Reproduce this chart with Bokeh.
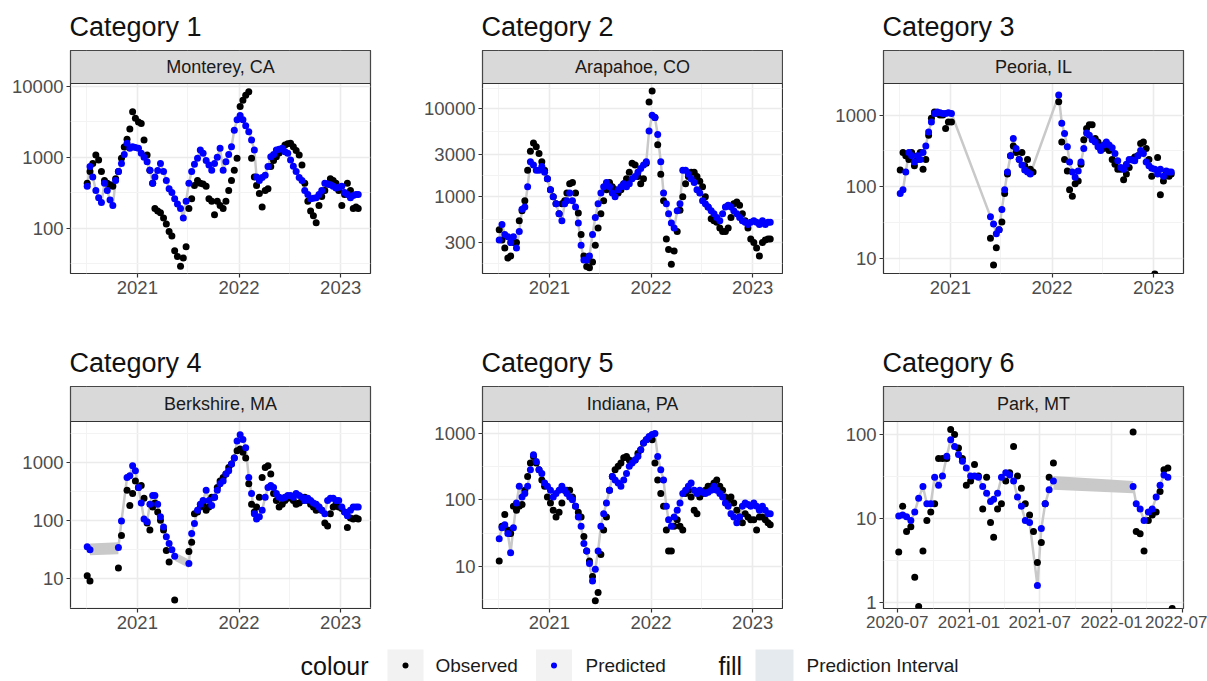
import numpy as np
import pandas as pd
from bokeh.plotting import figure
from bokeh.layouts import column, row
from bokeh.models import (Range1d, FixedTicker, DatetimeTickFormatter, NumeralTickFormatter,
                          BoxAnnotation, Label)
from bokeh.core.properties import value
from bokeh.embed import file_html
from bokeh.resources import INLINE

nan = float("nan")
FONT = "Liberation Sans"

categories = ["Category 1", "Category 2", "Category 3", "Category 4", "Category 5", "Category 6"]
locations = ["Monterey, CA", "Arapahoe, CO", "Peoria, IL", "Berkshire, MA", "Indiana, PA", "Park, MT"]
legend_colour = ["Observed", "Predicted"]
legend_fill = ["Prediction Interval"]

# readings: three per month (5th, 15th, 25th), one line per year
obs_monterey = (
    [430, 630, 820,  1080, 920, 630,  470, 430, 410,  390, 500, 630,  970, 1400, 1800,  2500, 4400, 3560] +
    [3160, 3000, 1760,  1080, 660, 430,  190, 175, 165,  140, 115, 90,  78, 48, 40,  29, 38, 55,
     190, 260, 400,  470, 430, 420,  390, 260, 240,  155, 240, 210,  190, 240, 340,  470, 660, 970] +
    [5200, 6400, 7500,  8400, 970, 530,  400, 310, 200,  340, 360, 740,  900, 1020, 1150,  1270, 1490, 1550,
     1580, 1410, 1250,  1080, 780, 430,  240, 175, 150,  120, 210, 280,  340, 420, 500,  470, 430, 340] +
    [210, 300, 430,  340, 190, 200,  190])
pred_monterey = (
    [390, 740, 530,  340, 270, 230,  430, 340, 250,  210, 470, 630,  820, 1100, 1580,  1340, 1410, 1380] +
    [1340, 1140, 1000,  870, 660, 430,  530, 650, 820,  630, 470, 360,  320, 260, 220,  190, 140, 240,
     430, 630, 800,  970, 1270, 1140,  900, 780, 660,  820, 1000, 1340,  660, 870, 1100,  1410, 2420, 3400] +
    [3900, 3400, 2800,  2300, 1760, 1270,  530, 470, 520,  560, 740, 1020,  1100, 1270, 1300,  1340, 1200, 1140,
     920, 750, 630,  520, 470, 340,  300, 260, 265,  270, 300, 340,  430, 420, 410,  390, 370, 380] +
    [390, 320, 300,  270, 290, 300,  300])

obs_arapahoe = (
    [420, 320, 260,  200, 210, 300,  300, 530, 690,  900, 2000, 3300,  4100, 3700, 3100,  2500, 2000, 1600] +
    [1200, 1000, 830,  640, 830, 900,  1100, 1400, 1450,  1100, 650, 370,  210, 160, 155,  180, 280, 440,
     640, 900, 1200,  1450, 1300, 1200,  1100, 1200, 1400,  1600, 1900, 2400,  2300, 1700, 1400,  1600, 2400, 12000] +
    [16000, 8000, 3900,  1800, 900, 330,  250, 170, 240,  400, 700, 1000,  1400, 1700, 1900,  1900, 1700, 1500,
     1300, 1000, 760,  560, 530, 510,  440, 400, 400,  440, 580, 830,  870, 800, 640,  530, 440, 330] +
    [300, 260, 210,  300, 320, 330,  330])
pred_arapahoe = (
    [320, 480, 370,  350, 300, 350,  260, 400, 720,  760, 1300, 2500,  2300, 2000, 2000,  2200, 1900, 1600] +
    [1200, 1000, 830,  640, 530, 830,  900, 1100, 900,  760, 500, 280,  190, 190, 210,  370, 580, 830,
     1100, 1300, 1450,  1300, 1100, 1000,  1200, 1300, 1400,  1300, 1400, 1600,  1700, 1900, 2100,  2300, 2500, 5600] +
    [8500, 8000, 5100,  2500, 1100, 830,  640, 500, 440,  690, 830, 2000,  2000, 1800, 1600,  1450, 1200, 1100,
     900, 830, 760,  690, 640, 580,  530, 640, 760,  800, 760, 690,  640, 580, 530,  510, 480, 510] +
    [530, 510, 480,  530, 480, 510,  510])

obs_peoria = (
    [170, 300, 270,  240, 300, 195,  240, 300, 175,  240, 520, 900,  1100, 1050, 1000,  1000, 650, 800] +
    [800, nan, nan,  nan, nan, nan,  nan, nan, nan,  nan, nan, nan,  nan, nan, 19,  8, 14, 25,
     32, 80, 150,  270, 370, 300,  240, 300, 195,  240, 175, 160,  nan, nan, nan,  nan, nan, nan] +
    [nan, nan, 1530,  420, 240, 165,  90, 73, 110,  120, 205, 450,  650, 730, 730,  470, 420, 340,
     340, 400, 320,  240, 205, 175,  175, 125, 150,  185, 240, 260,  270, 400, 420,  340, 240, 140] +
    [6, 255, 77,  120, 150, 140,  150])
pred_peoria = (
    [80, 90, 160,  300, 270, 220,  270, 240, 300,  370, 580, 800,  1050, 1100, 1080,  1050, 1050, 1080] +
    [1050, nan, nan,  nan, nan, nan,  nan, nan, nan,  nan, nan, nan,  nan, nan, 38,  30, 22, 25,
     48, 90, 160,  270, 470, 340,  240, 200, 170,  160, 150, nan,  nan, nan, nan,  nan, nan, nan] +
    [nan, nan, 1900,  770, 550, 360,  220, 160, 135,  165, 220, 340,  560, 520, 450,  420, 360, 320,
     380, 420, 380,  350, 290, 230,  185, 175, 205,  240, 235, 230,  270, 320, 290,  220, 195, 180] +
    [175, 150, 175,  140, 165, 160,  160])

obs_berkshire = (
    [11, 9, nan,  nan, nan, nan,  nan, nan, nan,  nan, nan, 15,  55, nan, 330,  180, 290, 480] +
    [370, 400, 240,  90, 68, 170,  200, 140, 100,  68, 30, 19,  nan, 4.2, nan,  nan, nan, nan,
     29, 42, 130,  140, 170, 190,  150, 170, 250,  250, 370, 480,  550, 630, 820,  940, 1200, 1600] +
    [1700, 1500, 1200,  430, 190, 140,  170, 250, 550,  820, 880, 630,  290, 220, 170,  190, 220, 240,
     250, 220, 190,  200, 220, 250,  220, 190, 170,  150, 170, 150,  90, 80, 130,  170, 190, 170] +
    [160, 140, 75,  110, 105, 110,  105])
pred_berkshire = (
    [35, 31, nan,  nan, nan, nan,  nan, nan, nan,  nan, nan, 34,  97, nan, 550,  590, 880, 720] +
    [370, 200, 105,  95, 190, 270,  270, 190, 115,  77, 52, 40,  31, 24, nan,  nan, nan, nan,
     18, 59, 88,  150, 190, 220,  330, 220, 180,  250, 330, 430,  480, 630, 720,  940, 1200, 2350] +
    [3000, 2500, 1800,  550, 290, 130,  105, 115, 150,  250, 370, 400,  370, 290, 250,  240, 250, 270,
     270, 250, 290,  270, 250, 220,  240, 220, 200,  190, 170, 150,  130, 220, 240,  240, 220, 220] +
    [170, 140, 120,  150, 170, 170,  170])

obs_indiana = (
    [12, 40, 60,  35, 31, 80,  70, 80, 85,  140, 225, 360,  450, 360, 285,  200, 160, 110] +
    [90, 70, 55,  65, 90, 140,  140, 140, 110,  80, 65, 55,  28, 17, 12,  7, 3, 4,
     15, 35, 55,  140, 225, 285,  320, 360, 430,  450, 400, 380,  400, 500, 570,  720, 810, 860] +
    [810, 360, 200,  125, 80, 35,  17, 17, 40,  50, 40, 35,  125, 140, 110,  70, 62, 110,
     125, 140, 160,  160, 180, 200,  160, 140, 110,  100, 110, 90,  70, 55, 45,  62, 55, 50] +
    [50, 35, 55,  55, 50, 45,  42])
pred_indiana = (
    [26, 38, 42,  31, 16, 38,  90, 160, 110,  125, 160, 285,  480, 380, 285,  250, 180, 160] +
    [140, 110, 125,  140, 160, 140,  125, 110, 100,  80, 55, 40,  22, 17, 11,  6, 9, 17,
     40, 62, 90,  140, 225, 200,  180, 160, 200,  250, 320, 360,  400, 450, 570,  720, 810, 900] +
    [970, 1000, 450,  285, 200, 80,  50, 40, 55,  70, 90, 125,  140, 160, 180,  140, 125, 140,
     130, 125, 130,  140, 160, 140,  125, 110, 90,  80, 62, 55,  45, 55, 80,  90, 85, 80] +
    [90, 80, 70,  80, 70, 62,  62])

obs_park = (
    [4, 14, 7,  8, 2, 0.9,  4.1, 9.5, 12,  15, 52, 52,  52, 115, 100,  69, 52, 25] +
    [28, 44, 32,  13, 31, 9,  6, 13, 15,  28, 35, 72,  32, 23, 15,  11, 7, 3,
     5.2, 15, 31,  46, nan, nan,  nan, nan, nan,  nan, nan, nan,  nan, nan, nan,  nan, nan, nan] +
    [nan, nan, nan,  nan, nan, 107,  7, 6.6, 4.1,  9.5, 11, 12,  21, 38, 40,  0.85])
pred_park = (
    [10.7, 11, 10.5,  9.5, 12, 17.4,  24, 15, 15,  31, 25, 32,  55, 87, 72,  58, 48, 40] +
    [32, 32, 31,  24, 20, 16,  17, 20, 31,  35, 33, 28,  18, 14, 9.5,  9, nan, 1.6,
     7.6, 15, 22,  28, nan, nan,  nan, nan, nan,  nan, nan, nan,  nan, nan, nan,  nan, nan, nan] +
    [nan, nan, nan,  nan, nan, 24,  15, 13, 9.5,  12, 13, 18,  25, 33, 31,  nan])

# visible prediction-interval bands where the interval bridges gaps
band_berkshire_dates = [["2020-07-15", "2020-10-25"], ["2021-05-15", "2021-07-05"]]
band_berkshire_lo = [[25, 26], [20, 15]]
band_berkshire_hi = [[40, 42], [28, 21]]
band_park_dates = [["2021-08-05", "2022-02-25"]]
band_park_lo = [[22, 20]]
band_park_hi = [[32, 28]]


def reading_dates(first_month, last_month, final_day):
    months = pd.period_range(first_month, last_month, freq="M")
    out = [pd.Timestamp(year=m.year, month=m.month, day=d) for m in months for d in (5, 15, 25)]
    out.append(pd.Timestamp(final_day))
    return out


dates_main = reading_dates("2020-07", "2023-02", "2023-03-05")
dates_park = reading_dates("2020-07", "2022-05", "2022-06-05")


def ms(s):
    return pd.Timestamp(s).value / 1e6


DT_FIELDS = ["microseconds", "milliseconds", "seconds", "minsec", "minutes",
             "hourmin", "hours", "days", "months", "years"]


def dt_fmt(fmt):
    return DatetimeTickFormatter(**{f: fmt for f in DT_FIELDS})


def geo_mid(a, b):
    return float(np.sqrt(a * b))


years_major = ["2021-01-01", "2022-01-01", "2023-01-01"]
years_minor = ["2020-07-01", "2021-07-01", "2022-07-01"]
half_major = ["2020-07-01", "2021-01-01", "2021-07-01", "2022-01-01", "2022-07-01"]
half_minor = ["2020-10-01", "2021-04-01", "2021-10-01", "2022-04-01"]

main_xr = ("2020-05-06", "2023-04-18")
park_xr = ("2020-05-27", "2022-07-04")

specs = [
    dict(obs=obs_monterey, pred=pred_monterey, dates=dates_main, yr=(23, 11000),
         yt=[100, 1000, 10000], ym=[geo_mid(10, 100), geo_mid(100, 1000), geo_mid(1000, 10000)],
         xr=main_xr, xt=years_major, xm=years_minor, fmt="%Y", bands=None),
    dict(obs=obs_arapahoe, pred=pred_arapahoe, dates=dates_main, yr=(133, 19500),
         yt=[300, 1000, 3000, 10000],
         ym=[geo_mid(100, 300), geo_mid(300, 1000), geo_mid(1000, 3000), geo_mid(3000, 10000), geo_mid(10000, 30000)],
         xr=main_xr, xt=years_major, xm=years_minor, fmt="%Y", bands=None),
    dict(obs=obs_peoria, pred=pred_peoria, dates=dates_main, yr=(6.1, 2760),
         yt=[10, 100, 1000], ym=[geo_mid(10, 100), geo_mid(100, 1000)],
         xr=main_xr, xt=years_major, xm=years_minor, fmt="%Y", bands=None),
    dict(obs=obs_berkshire, pred=pred_berkshire, dates=dates_main, yr=(3.0, 5100),
         yt=[10, 100, 1000], ym=[geo_mid(1, 10), geo_mid(10, 100), geo_mid(100, 1000), geo_mid(1000, 10000)],
         xr=main_xr, xt=years_major, xm=years_minor, fmt="%Y",
         bands=(band_berkshire_dates, band_berkshire_lo, band_berkshire_hi)),
    dict(obs=obs_indiana, pred=pred_indiana, dates=dates_main, yr=(2.3, 1520),
         yt=[10, 100, 1000], ym=[geo_mid(1, 10), geo_mid(10, 100), geo_mid(100, 1000)],
         xr=main_xr, xt=years_major, xm=years_minor, fmt="%Y", bands=None),
    dict(obs=obs_park, pred=pred_park, dates=dates_park, yr=(0.85, 143),
         yt=[1, 10, 100], ym=[geo_mid(1, 10), geo_mid(10, 100)],
         xr=park_xr, xt=half_major, xm=half_minor, fmt="%Y-%m",
         bands=(band_park_dates, band_park_lo, band_park_hi)),
]

# layout geometry (pixels)
col_left = [70, 100, 100]
col_right = [12, 1, 24]
TOP = 50                 # room for the "Category" title
strip_px = [33, 35]      # facet strip height per row
panel_px = [190, 187]    # data panel height per row
bottom_px = [63, 40]

RIBBON = "#c9c9c9"
AXIS_FS = "18.5px"


def make_panel(i, s):
    c, r = i % 3, i // 3
    left, right = col_left[c], col_right[c]
    width = left + 300 + right
    height = TOP + strip_px[r] + panel_px[r] + bottom_px[r]

    lo, hi = s["yr"]
    ext = np.log10(hi / lo) * strip_px[r] / panel_px[r]
    hi_ext = hi * 10 ** ext

    x0, x1 = pd.Timestamp(s["xr"][0]), pd.Timestamp(s["xr"][1])
    p = figure(width=width, height=height, x_axis_type="datetime", y_axis_type="log",
               x_range=Range1d(x0, x1), y_range=Range1d(lo, hi_ext),
               toolbar_location=None, output_backend="svg",
               min_border_left=left, min_border_right=right, min_border_top=TOP,
               min_border_bottom=bottom_px[r], title=categories[i])
    p.background_fill_color = "white"
    p.border_fill_color = "white"
    p.outline_line_color = "#333333"
    p.outline_line_width = 1.2
    p.title.text_font = FONT
    p.title.text_font_size = "27px"
    p.title.text_font_style = "normal"
    p.title.text_color = "#111111"
    p.title.offset = -1
    p.title.standoff = 17

    xt = FixedTicker(ticks=[ms(t) for t in s["xt"]], minor_ticks=[ms(t) for t in s["xm"]])
    yt = FixedTicker(ticks=s["yt"], minor_ticks=s["ym"])
    p.xaxis.ticker = xt
    p.xgrid.ticker = xt
    p.yaxis.ticker = yt
    p.ygrid.ticker = yt
    p.xaxis.formatter = dt_fmt(s["fmt"])
    p.yaxis.formatter = NumeralTickFormatter(format="0")
    for ax in (p.xaxis[0], p.yaxis[0]):
        ax.axis_line_color = None
        ax.major_tick_line_color = "#333333"
        ax.major_tick_line_width = 1.2
        ax.major_tick_out = 4
        ax.major_tick_in = 0
        ax.minor_tick_line_color = None
        ax.major_label_text_font = FONT
        ax.major_label_text_font_size = AXIS_FS
        ax.major_label_text_color = "#4d4d4d"
        ax.major_label_standoff = 3
    if s["fmt"] != "%Y":
        p.xaxis.major_label_text_font_size = "17px"
    p.grid.grid_line_color = "#ebebeb"
    p.grid.grid_line_width = 1.6
    p.grid.minor_grid_line_color = "#f3f3f3"
    p.grid.minor_grid_line_width = 1.0

    dates = np.array(s["dates"], dtype="datetime64[ns]")
    obs = np.array(s["obs"], dtype=float)
    pred = np.array(s["pred"], dtype=float)

    if s["bands"] is not None:
        bd, blo, bhi = s["bands"]
        for d, l, h in zip(bd, blo, bhi):
            p.varea(x=[pd.Timestamp(v) for v in d], y1=l, y2=h, fill_color=RIBBON)

    mp = ~np.isnan(pred)
    p.line(x=dates[mp], y=pred[mp], line_color=RIBBON, line_width=2.5)
    mo = ~np.isnan(obs)
    p.scatter(x=dates[mo], y=obs[mo], size=7, fill_color="black", line_color=None)
    p.scatter(x=dates[mp], y=pred[mp], size=7, fill_color="#0000ff", line_color=None)

    # facet strip on top of the panel
    p.add_layout(BoxAnnotation(bottom=hi, top=hi_ext, fill_color="#d9d9d9", fill_alpha=1.0,
                               line_color="#333333", line_width=1.2, line_alpha=1.0))
    xmid = (ms(x0) + ms(x1)) / 2
    p.add_layout(Label(x=xmid, y=float(np.sqrt(hi * hi_ext)), text=locations[i],
                       text_align="center", text_baseline="middle", text_font=FONT,
                       text_font_size="18px", text_color="#1a1a1a"))
    return p


panels = [make_panel(i, s) for i, s in enumerate(specs)]

# legend strip
LEG_W, LEG_H = 1207, 33
leg = figure(width=LEG_W, height=LEG_H, x_range=Range1d(0, LEG_W), y_range=Range1d(0, LEG_H),
             x_axis_type=None, y_axis_type=None, toolbar_location=None,
             output_backend="svg", min_border=0)
leg.outline_line_color = None
leg.background_fill_color = "white"
leg.border_fill_color = "white"
cy = 16
leg.rect(x=[405, 553.5], y=[cy, cy], width=36, height=32, fill_color="#f2f2f2", line_color=None)
leg.rect(x=[774], y=[cy], width=38, height=32, fill_color="#e5eaee", line_color=None)
leg.scatter(x=[405], y=[cy], size=6, fill_color="black", line_color=None)
leg.scatter(x=[553.5], y=[cy], size=6, fill_color="#0000ff", line_color=None)
leg.text(x=[300, 718], y=[cy, cy], text=["colour", "fill"], text_baseline="middle",
         text_font=value(FONT), text_font_size="25px", text_color="#111111")
leg.text(x=[435, 585, 806], y=[cy, cy, cy], text=legend_colour + legend_fill,
         text_baseline="middle", text_font=value(FONT), text_font_size="19px",
         text_color="#1a1a1a")

layout = column(row(*panels[:3]), row(*panels[3:]), leg)

open("out.html", "w").write(file_html(layout, INLINE))
